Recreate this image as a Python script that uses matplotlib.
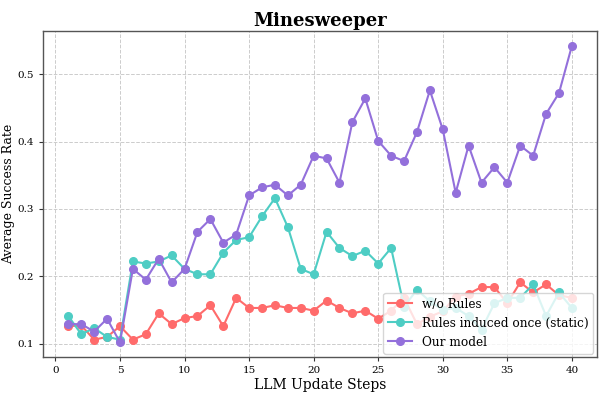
import matplotlib
matplotlib.use("Agg")
import matplotlib.pyplot as plt

plt.rcParams['font.family'] = ['DejaVu Serif']

steps = list(range(1, 41))
wo_rules = [0.126, 0.127, 0.106, 0.110, 0.126, 0.106, 0.114, 0.145, 0.129, 0.138,
            0.141, 0.157, 0.126, 0.168, 0.153, 0.153, 0.157, 0.153, 0.153, 0.149,
            0.164, 0.153, 0.145, 0.149, 0.137, 0.149, 0.168, 0.129, 0.140, 0.148,
            0.170, 0.174, 0.184, 0.184, 0.160, 0.191, 0.176, 0.188, 0.172, 0.168]
static_rules = [0.141, 0.114, 0.123, 0.110, 0.106, 0.222, 0.219, 0.222, 0.231, 0.211,
                0.203, 0.203, 0.235, 0.254, 0.258, 0.289, 0.316, 0.273, 0.211, 0.203,
                0.266, 0.242, 0.230, 0.238, 0.219, 0.242, 0.155, 0.180, 0.163, 0.150,
                0.153, 0.141, 0.121, 0.160, 0.168, 0.168, 0.188, 0.141, 0.176, 0.153]
our_model = [0.129, 0.129, 0.118, 0.137, 0.102, 0.211, 0.195, 0.226, 0.191, 0.211,
             0.266, 0.285, 0.250, 0.262, 0.320, 0.332, 0.336, 0.320, 0.336, 0.379,
             0.375, 0.339, 0.429, 0.464, 0.401, 0.379, 0.371, 0.414, 0.476, 0.418,
             0.324, 0.394, 0.339, 0.362, 0.339, 0.394, 0.379, 0.441, 0.472, 0.542]
labels = ["w/o Rules", "Rules induced once (static)", "Our model"]
colors = ["#FF6B6B", "#4ECDC4", "#9370DB"]

fig = plt.figure(figsize=(6.08, 4.04), dpi=100)
ax = fig.add_axes([0.071, 0.116, 0.911, 0.807])

for ys, lab, c in zip([wo_rules, static_rules, our_model], labels, colors):
    ax.plot(steps, ys, marker='o', color=c, label=lab, linewidth=1.5, markersize=5.5)

ax.set_title("Minesweeper", fontsize=13, fontweight='bold', pad=4)
ax.set_xlabel("LLM Update Steps", fontsize=10, labelpad=2)
ax.set_ylabel("Average Success Rate", fontsize=9, labelpad=2)
ax.set_xticks([0, 5, 10, 15, 20, 25, 30, 35, 40])
ax.set_yticks([0.1, 0.2, 0.3, 0.4, 0.5])
ax.tick_params(labelsize=7.5, length=3, color='#333333')
ax.grid(True, linestyle='--', color='#cccccc', linewidth=0.7)
for s in ax.spines.values():
    s.set_color('#555555')
    s.set_linewidth(1.0)
ax.legend(loc='lower right', fontsize=8.7, framealpha=0.8, borderaxespad=0.3)

fig.savefig("out.png", dpi=100)
